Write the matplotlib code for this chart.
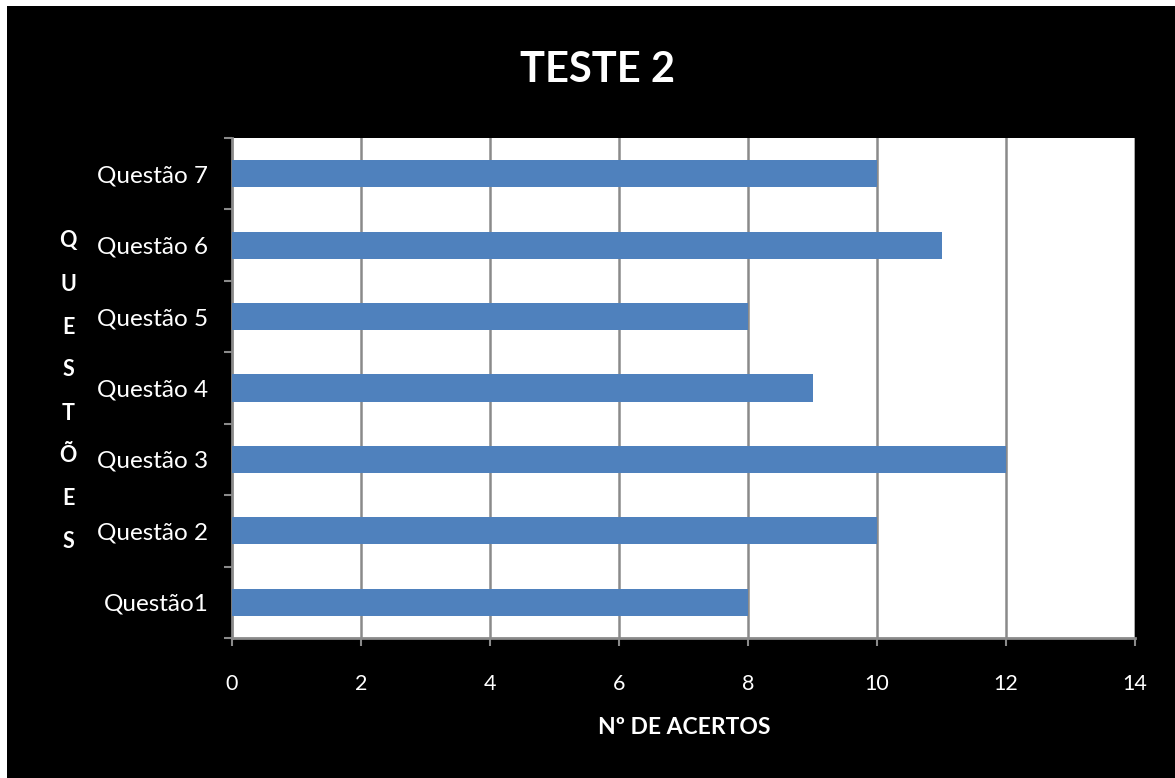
import matplotlib
matplotlib.use("Agg")
import matplotlib.pyplot as plt
from matplotlib.patches import Rectangle
import numpy as np

categories = ["Questão1", "Questão 2", "Questão 3", "Questão 4", "Questão 5", "Questão 6", "Questão 7"]
acertos = [8, 10, 12, 9, 8, 11, 10]
x_ticks = [0, 2, 4, 6, 8, 10, 12, 14]
title = "TESTE 2"
x_label = "Nº DE ACERTOS"
y_label = "QUESTÕES"

plt.rcParams["font.family"] = ["Lato", "DejaVu Sans"]

W, H = 1175, 778
fig = plt.figure(figsize=(W / 100, H / 100), dpi=100, facecolor="white")
# black panel with a thin white margin on top and left
fig.patches.append(Rectangle((7 / W, 0), 1 - 7 / W, 1 - 6 / H, transform=fig.transFigure,
                             facecolor="black", edgecolor="none", zorder=-5))

ax = fig.add_axes([232 / W, 1 - 638 / H, (1135 - 232) / W, (638 - 138) / H])
ax.set_zorder(2)
ax.set_facecolor("white")

grid_c = "#8a8a8a"
y = np.arange(len(categories))
ax.barh(y, acertos, height=0.38, color="#4f81bd", zorder=3)

ax.set_xlim(0, 14)
ax.set_ylim(-0.5, len(categories) - 0.5)
ax.set_xticks(x_ticks)
ax.set_xticklabels([str(v) for v in x_ticks], color="white", fontsize=15.5)
ax.set_yticks(y)
ax.set_yticklabels(categories, color="white", fontsize=17.5)
ax.set_yticks(np.arange(-0.5, len(categories)), minor=True)

ax.tick_params(axis="y", which="major", length=0, pad=17)
ax.tick_params(axis="y", which="minor", length=6, width=1.5, color=grid_c, direction="out")
ax.tick_params(axis="x", which="major", length=6, width=1.5, color=grid_c, direction="out", pad=20)

for v in x_ticks[1:]:
    ax.axvline(v, color=grid_c, lw=1.8, zorder=1)

for side in ("top", "right"):
    ax.spines[side].set_visible(False)
for side in ("left", "bottom"):
    ax.spines[side].set_color(grid_c)
    ax.spines[side].set_linewidth(2)

fig.text(597 / W, 1 - 70 / H, title, color="white", fontsize=30, fontweight="bold",
         ha="center", va="center")
fig.text(684 / W, 1 - 728 / H, x_label, color="white", fontsize=16.5, fontweight="bold",
         ha="center", va="center")

# vertical axis title, one letter per line
letters = list(y_label)
y0, step = 241, 43
for i, ch in enumerate(letters):
    fig.text(68 / W, 1 - (y0 + i * step) / H, ch, color="white", fontsize=15.5,
             fontweight="bold", ha="center", va="center")

fig.savefig("out.png", dpi=100, facecolor=fig.get_facecolor())
